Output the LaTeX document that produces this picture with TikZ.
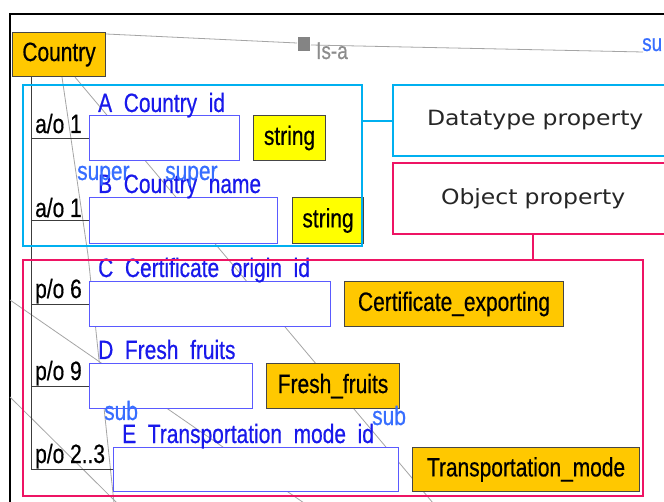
\documentclass[tikz,border=0pt]{standalone}
\usepackage{fontspec}
\setmainfont{Liberation Sans}
\newfontfamily\diagfont[FakeStretch=0.79,FakeBold=0.5]{Liberation Sans}
\newfontfamily\captfont[FakeStretch=1.12]{DejaVu Sans}
\definecolor{clsorange}{RGB}{255,200,0}
\definecolor{typeyellow}{RGB}{255,255,0}
\definecolor{boxedge}{RGB}{70,70,70}
\definecolor{slotblue}{RGB}{90,90,255}
\definecolor{titleblue}{RGB}{25,25,235}
\definecolor{rolelblue}{RGB}{55,110,255}
\definecolor{dtcyan}{RGB}{0,176,240}
\definecolor{objpink}{RGB}{238,20,100}
\definecolor{linkgray}{RGB}{165,165,165}
\definecolor{treegray}{RGB}{60,60,60}
\newcommand\gapu{\phantom{\_}}

\begin{document}
\begin{tikzpicture}[x=1pt,y=-1pt,
  txt/.style={font=\diagfont\fontsize{26.5}{26.5}\selectfont},
  cls/.style={txt,draw=boxedge,fill=clsorange,line width=1.1pt,inner sep=0pt,anchor=north west},
  dtype/.style={cls,fill=typeyellow},
  slot/.style={draw=slotblue,line width=1.2pt,fill=white,inner sep=0pt,anchor=north west},
  title/.style={txt,text=titleblue,inner sep=0pt,anchor=base west},
  role/.style={txt,text=rolelblue,inner sep=0pt,anchor=base west},
  card/.style={txt,text=black,inner sep=0pt,anchor=base west},
  tree/.style={draw=treegray,line width=1pt},
  link/.style={draw=linkgray,line width=0.8pt},
  group/.style={line width=2pt,anchor=north west,inner sep=0pt},
  caption/.style={draw,line width=2pt,fill=white,anchor=north west,inner sep=0pt,
    font=\captfont\fontsize{21}{21}\selectfont,text=black!85}]

\useasboundingbox (0,0) rectangle (664,502);
\clip (0,0) rectangle (664,502);
\fill[white] (0,0) rectangle (664,502);

% frame of the diagram pane
\draw[black,line width=1.2pt] (10,503) -- (10,14) -- (665,14);

% thin relation lines
\coordinate (l1end) at (114,503);
\coordinate (l2end) at (433,503);
\coordinate (l4a) at (10,300);
\coordinate (l4b) at (304,503);
\coordinate (l5a) at (10,397);
\coordinate (l5b) at (117,503);
\path[link] (l4a) -- (l4b);
\path[link] (l5a) -- (l5b);

% class node
\node[cls,minimum width=93pt,minimum height=44pt] (country) at (12,32) {Country};

\path[link] (country.south west) ++(50,0) coordinate (l1start) -- (88,255) -- (l1end);
\path[link] (country.south west) ++(63,0) coordinate (l2start) -- (l2end);

% is-a link along the top
\coordinate (isaL) at (297,43);
\coordinate (isaR) at (311,45);
\coordinate (topend) at (643,52);
\path[link] (country.north east) ++(0,2) -- (isaL);
\path[link] (isaR) -- (topend);
\node[fill=linkgray!80!black,minimum width=12pt,minimum height=14pt,inner sep=0pt] (isabox) at (304,44) {};
\node[inner sep=0pt,anchor=base west,text=linkgray!85!black,font=\diagfont\fontsize{24}{24}\selectfont] (isalbl) at (316,59) {Is-a};
\node[role,font=\diagfont\fontsize{24}{24}\selectfont] (sulbl) at (642,51) {su};

% slot boxes
\node[slot,minimum width=150pt,minimum height=45pt] (slotA) at (89,115) {};
\node[slot,minimum width=188pt,minimum height=46pt] (slotB) at (89,197) {};
\node[slot,minimum width=241pt,minimum height=45pt] (slotC) at (89,281) {};
\node[slot,minimum width=163pt,minimum height=45pt] (slotD) at (89,363) {};
\node[slot,minimum width=285pt,minimum height=44pt] (slotE) at (113,447) {};

% value-type nodes
\node[dtype,minimum width=72pt,minimum height=45pt] (strA) at (253,115) {string};
\node[dtype,minimum width=71pt,minimum height=46pt] (strB) at (292,197) {string};
\node[cls,minimum width=219pt,minimum height=45pt] (cert) at (344,281) {Certificate\_exporting};
\node[cls,minimum width=133pt,minimum height=45pt] (fresh) at (266,363) {Fresh\_fruits};
\node[cls,minimum width=227pt,minimum height=44pt] (trans) at (412,447) {Transportation\_mode};

% slot titles
\node[title] (tA) at (98,112) {A\gapu Country\gapu id};
\node[title] (tB) at (98,193) {B\gapu Country\gapu name};
\node[title] (tC) at (98,277) {C\gapu Certificate\gapu origin\gapu id};
\node[title] (tD) at (98,359) {D\gapu Fresh\gapu fruits};
\node[title] (tE) at (122,443) {E\gapu Transportation\gapu mode\gapu id};

% role labels on the relation lines
\node[role] (sup1) at (77,180) {super};
\node[role] (sup2) at (165,180) {super};
\node[role] (sub1) at (104,420) {sub};
\node[role] (sub2) at (372,425) {sub};

% slot tree
\path (country.south west) ++(19,0) coordinate (trunk);
\draw[tree] (trunk) |- (slotE.west);
\foreach \s in {slotA,slotB,slotC,slotD}
  \draw[tree] (trunk |- \s.west) -- (\s.west);

% cardinalities
\node[card] (cA) at (35,133) {a/o 1};
\node[card] (cB) at (35,217) {a/o 1};
\node[card] (cC) at (35,298) {p/o 6};
\node[card] (cD) at (35,380) {p/o 9};
\node[card] (cE) at (35,463) {p/o 2..3};

% property groups
\node[group,draw=dtcyan,minimum width=339pt,minimum height=161pt] (dtgroup) at (22,84) {};
\node[group,draw=objpink,minimum width=620pt,minimum height=236pt] (objgroup) at (22,259) {};

% legend captions
\node[caption,draw=dtcyan,minimum width=290pt,minimum height=71pt,text width=282pt,align=left] (dtcap) at (392,84) {\hspace*{30pt}Datatype property};
\node[caption,draw=objpink,minimum width=290pt,minimum height=71pt,text width=282pt,align=left] (objcap) at (392,162) {\hspace*{44pt}Object property};

\draw[dtcyan,line width=2pt] (dtgroup.east |- 0,121) -- (dtcap.west |- 0,121);
\draw[objpink,line width=2pt] (objcap.south -| 533,0) -- (objgroup.north -| 533,0);
\end{tikzpicture}
\end{document}
